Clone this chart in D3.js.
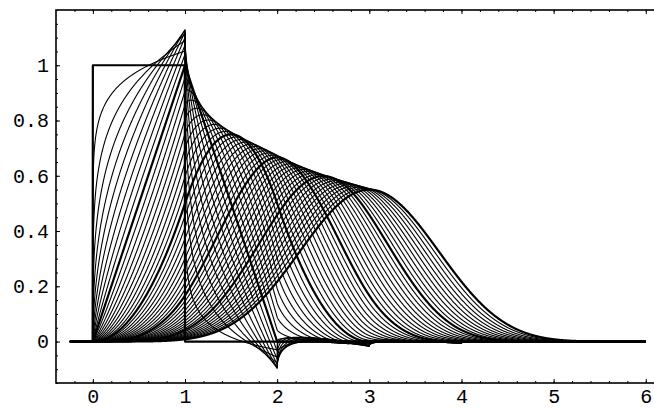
<!DOCTYPE html>
<html>
<head>
<meta charset="utf-8">
<script src="https://cdn.jsdelivr.net/npm/d3@7"></script>
<style>
  html, body { margin: 0; padding: 0; background: #fff; }
  svg { display: block; }
  .tick text { font-family: "Liberation Mono", "DejaVu Sans Mono", monospace; font-size: 20px; fill: #000; }
</style>
</head>
<body>
<svg id="chart" width="654" height="408"></svg>
<script>
// ---- data: orders alpha of the causal fractional B-splines drawn (one curve each) ----
const alphas = [0, 0.1, 0.2, 0.3, 0.4, 0.5, 0.6, 0.7, 0.8, 0.9,
                1, 1.1, 1.2, 1.3, 1.4, 1.5, 1.6, 1.7, 1.8, 1.9,
                2, 2.1, 2.2, 2.3, 2.4, 2.5, 2.6, 2.7, 2.8, 2.9,
                3, 3.1, 3.2, 3.3, 3.4, 3.5, 3.6, 3.7, 3.8, 3.9,
                4, 4.1, 4.2, 4.3, 4.4, 4.5, 4.6, 4.7, 4.8, 4.9, 5];
const boldAlphas = [0, 1, 2, 3, 4, 5];
const xRange = [-0.25, 6];          // plotted x interval
const xTicksMajor = [0, 1, 2, 3, 4, 5, 6];
const xTickLabels = ["0", "1", "2", "3", "4", "5", "6"];
const yTicksMajor = [0, 0.2, 0.4, 0.6, 0.8, 1];
const yTickLabels = ["0", "0.2", "0.4", "0.6", "0.8", "1"];

// ---- layout ----
const W = 654, H = 408;
const m = { left: 56, top: 10, bottom: 383, right: 655 };
const svg = d3.select("#chart");
const x = d3.scaleLinear().domain([-0.4, 6.1]).range([m.left, m.right]);
const y = d3.scaleLinear().domain([-0.15, 1.2]).range([m.bottom, m.top]);

// ---- fractional B-spline beta_+^alpha ----
function gamma(z) {
  if (z < 0.5) return Math.PI / (Math.sin(Math.PI * z) * gamma(1 - z));
  z -= 1;
  const c = [0.99999999999980993, 676.5203681218851, -1259.1392167224028,
    771.32342877765313, -176.61502916214059, 12.507343278686905,
    -0.13857109526572012, 9.9843695780195716e-6, 1.5056327351493116e-7];
  let s = c[0];
  for (let i = 1; i < 9; i++) s += c[i] / (z + i);
  const t = z + 7.5;
  return Math.sqrt(2 * Math.PI) * Math.pow(t, z + 0.5) * Math.exp(-t) * s;
}
function fracB(alpha, xv) {
  if (xv < 0) return 0;
  const a = alpha + 1;
  let s = 0, b = 1;
  for (let k = 0; k <= Math.floor(xv); k++) {
    if (k > 0) b *= (a - k + 1) / k;
    const d = xv - k;
    let term = 0;
    if (d > 0) term = Math.pow(d, alpha);
    else if (d === 0 && alpha === 0) term = 1;
    s += (k % 2 === 0 ? 1 : -1) * b * term;
  }
  return s / gamma(alpha + 1);
}

// sampling grid
const xs = [];
for (let i = Math.round(xRange[0] * 400); i <= Math.round(xRange[1] * 400); i++) xs.push(i / 400);

const clipId = "plotclip";
svg.append("defs").append("clipPath").attr("id", clipId)
  .append("rect").attr("x", m.left).attr("y", m.top)
  .attr("width", m.right - m.left).attr("height", m.bottom - m.top);

const line = d3.line().x(d => x(d[0])).y(d => y(d[1]));
const g = svg.append("g").attr("clip-path", `url(#${clipId})`);

const thin = alphas.filter(a => !boldAlphas.includes(a));
g.selectAll("path.thin").data(thin).join("path")
  .attr("class", "thin")
  .attr("fill", "none").attr("stroke", "#000").attr("stroke-width", 1.1)
  .attr("stroke-linejoin", "round")
  .attr("d", a => line(xs.map(v => [v, fracB(a, v)])));
g.selectAll("path.bold").data(boldAlphas).join("path")
  .attr("class", "bold")
  .attr("fill", "none").attr("stroke", "#000").attr("stroke-width", 2.2)
  .attr("stroke-linejoin", "round")
  .attr("d", a => line(xs.map(v => [v, fracB(a, v)])));

// ---- frame and ticks ----
const xMinor = d3.range(-2, 31).map(i => i / 5).filter(v => v > -0.4 && v < 6.1);
const yMinor = d3.range(-3, 25).map(i => i / 20);

function styleAxis(sel) {
  sel.select(".domain").remove();
  sel.selectAll("line").attr("stroke", "#000").attr("stroke-width", 1);
}
// bottom
svg.append("g").attr("transform", `translate(0,${m.bottom})`)
  .call(d3.axisBottom(x).tickValues(xMinor).tickSize(-2).tickFormat("")).call(styleAxis);
svg.append("g").attr("transform", `translate(0,${m.bottom})`)
  .call(d3.axisBottom(x).tickValues(xTicksMajor).tickSize(-4).tickPadding(6)
    .tickFormat((d, i) => xTickLabels[i])).call(styleAxis);
// top
svg.append("g").attr("transform", `translate(0,${m.top})`)
  .call(d3.axisTop(x).tickValues(xMinor).tickSize(-2).tickFormat("")).call(styleAxis);
svg.append("g").attr("transform", `translate(0,${m.top})`)
  .call(d3.axisTop(x).tickValues(xTicksMajor).tickSize(-4).tickFormat("")).call(styleAxis);
// left
svg.append("g").attr("transform", `translate(${m.left},0)`)
  .call(d3.axisLeft(y).tickValues(yMinor).tickSize(-2).tickFormat("")).call(styleAxis);
svg.append("g").attr("transform", `translate(${m.left},0)`)
  .call(d3.axisLeft(y).tickValues(yTicksMajor).tickSize(-4).tickPadding(7)
    .tickFormat((d, i) => yTickLabels[i])).call(styleAxis);

svg.append("rect").attr("x", m.left).attr("y", m.top)
  .attr("width", m.right - m.left + 5).attr("height", m.bottom - m.top)
  .attr("fill", "none").attr("stroke", "#000").attr("stroke-width", 1.6);
</script>
</body>
</html>
